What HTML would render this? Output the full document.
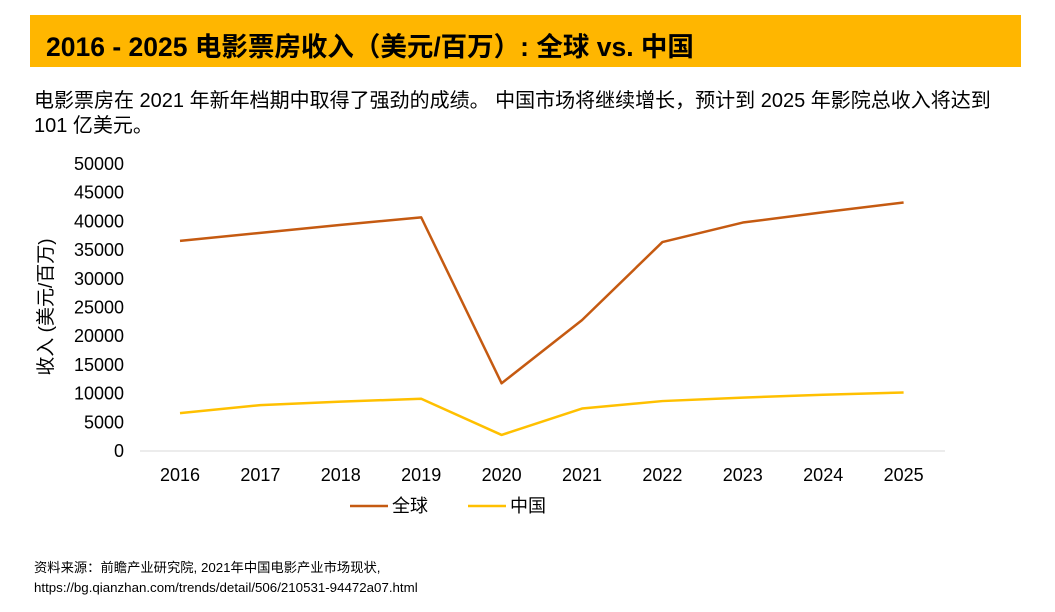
<!DOCTYPE html>
<html><head><meta charset="utf-8">
<style>
body{margin:0;width:1055px;height:612px;background:#fff;overflow:hidden;font-family:"Liberation Sans","Noto Sans CJK SC",sans-serif;color:#000}
#title{position:absolute;left:30px;top:15px;width:991px;height:52px;background:#ffb600}
#title span{position:absolute;left:16px;top:10px;font-size:26.5px;font-weight:bold;white-space:nowrap}
.sub{position:absolute;left:34px;font-size:20px;white-space:nowrap}
.foot{position:absolute;left:34px;font-size:13.3px;white-space:nowrap}
svg{position:absolute;left:0;top:0}
</style></head><body>
<div id="title"><span>2016 - 2025 电影票房收入（美元/百万）: 全球 vs. 中国</span></div>
<div class="sub" style="top:84px">电影票房在 2021 年新年档期中取得了强劲的成绩。 中国市场将继续增长，预计到 2025 年影院总收入将达到</div>
<div class="sub" style="top:109px">101 亿美元。</div>
<div class="foot" style="top:557px">资料来源：前瞻产业研究院, 2021年中国电影产业市场现状,</div>
<div class="foot" style="top:580px">https://bg.qianzhan.com/trends/detail/506/210531-94472a07.html</div>
<svg id="chart" width="1055" height="612"></svg>
<script>
const years=["2016","2017","2018","2019","2020","2021","2022","2023","2024","2025"];
const globalVals=[36600,38000,39400,40700,11800,22800,36400,39800,41600,43300];
const chinaVals=[6600,8000,8600,9100,2800,7400,8700,9300,9800,10200];
const yTicks=[0,5000,10000,15000,20000,25000,30000,35000,40000,45000,50000];
const svg=document.getElementById('chart');const NS='http://www.w3.org/2000/svg';
const x=i=>180+i*80.4;const y=v=>451-v/50000*287;
function mk(t,a){const e=document.createElementNS(NS,t);for(const k in a)e.setAttribute(k,a[k]);svg.appendChild(e);return e;}
const ax=mk('line',{x1:140,x2:945,y1:451,y2:451,stroke:'#d9d9d9','stroke-width':1});


yTicks.forEach(v=>{const t=mk('text',{x:124,y:y(v)+6,'text-anchor':'end','font-size':18});t.textContent=v;

});
years.forEach((yr,i)=>{const t=mk('text',{x:x(i),y:481,'text-anchor':'middle','font-size':18});t.textContent=yr;

});
const yt=mk('text',{x:0,y:0,'font-size':19,'text-anchor':'middle',transform:'translate(52,307) rotate(-90)','font-family':'Liberation Sans, Noto Sans CJK SC, sans-serif'});yt.textContent='收入 (美元/百万)';


function line(vals,col,name){const p=mk('polyline',{points:vals.map((v,i)=>x(i)+','+y(v)).join(' '),fill:'none',stroke:col,'stroke-width':2.5,'stroke-linejoin':'round'});

}
line(globalVals,'#c55a11','global-line');
line(chinaVals,'#ffc000','china-line');
function leg(x0,col,label,name){const l=mk('line',{x1:x0,x2:x0+38,y1:506,y2:506,stroke:col,'stroke-width':2.5});


const t=mk('text',{x:x0+42,y:512,'font-size':18});t.textContent=label;

}
leg(350,'#c55a11','全球','legend-global');
leg(468,'#ffc000','中国','legend-china');
</script>
</body></html>
